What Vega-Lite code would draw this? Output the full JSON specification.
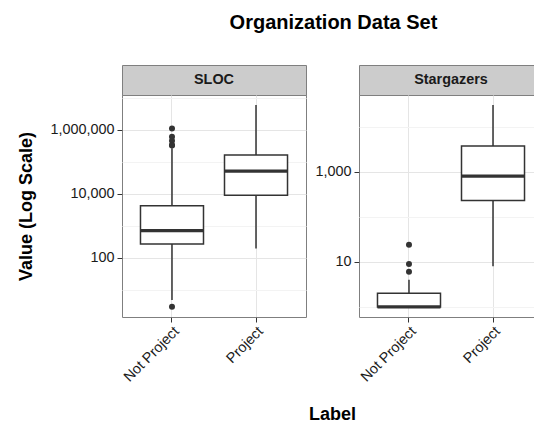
{
  "$schema": "https://vega.github.io/schema/vega-lite/v6.json",
  "padding": {"left": 17, "top": 12, "right": 30, "bottom": 6},
  "config": {
    "font": "Liberation Sans",
    "view": {"stroke": "#7f7f7f", "strokeWidth": 1},
    "axis": {
      "labelFont": "Liberation Sans",
      "labelFontSize": 14.4,
      "labelColor": "#1a1a1a",
      "titleFont": "Liberation Sans",
      "titleFontSize": 18,
      "titleFontWeight": "bold",
      "titleColor": "#000000",
      "tickColor": "#333333",
      "tickSize": 5,
      "domain": false,
      "gridColor": "#e5e5e5",
      "gridWidth": 1
    }
  },
  "title": {
    "text": "Organization Data Set",
    "fontSize": 20,
    "fontWeight": "bold",
    "font": "Liberation Sans",
    "color": "#000000",
    "anchor": "middle",
    "offset": 32,
    "dx": 53
  },
  "datasets": {
    "panels": [{"panel": "SLOC"}, {"panel": "Stargazers"}],
    "boxes": [
      {"panel": "SLOC", "label": "Not Project", "lower": 4.7, "q1": 269, "median": 708, "q3": 4270, "upper": 269000},
      {"panel": "SLOC", "label": "Project", "lower": 195, "q1": 9120, "median": 51300, "q3": 166000, "upper": 6030000},
      {"panel": "Stargazers", "label": "Not Project", "lower": 1, "q1": 1, "median": 1, "q3": 2, "upper": 4},
      {"panel": "Stargazers", "label": "Project", "lower": 8, "q1": 229, "median": 800, "q3": 3720, "upper": 30200}
    ],
    "outliers": [
      {"panel": "SLOC", "label": "Not Project", "value": 1122000},
      {"panel": "SLOC", "label": "Not Project", "value": 617000},
      {"panel": "SLOC", "label": "Not Project", "value": 457000},
      {"panel": "SLOC", "label": "Not Project", "value": 339000},
      {"panel": "SLOC", "label": "Not Project", "value": 324000},
      {"panel": "SLOC", "label": "Not Project", "value": 2.9},
      {"panel": "Stargazers", "label": "Not Project", "value": 24},
      {"panel": "Stargazers", "label": "Not Project", "value": 9},
      {"panel": "Stargazers", "label": "Not Project", "value": 6}
    ]
  },
  "columns": 2,
  "bounds": "flush",
  "spacing": {"row": 0, "column": 53},
  "concat": [
    {
      "width": 184,
      "height": 30,
      "data": {"name": "panels"},
      "transform": [{"filter": "datum.panel === 'SLOC'"}],
      "mark": {"type": "text", "fontSize": 14.4, "fontWeight": "bold", "color": "#1a1a1a"},
      "encoding": {"text": {"field": "panel"}},
      "view": {"fill": "#cccccc", "stroke": "#7f7f7f"}
    },
    {
      "width": 184,
      "height": 30,
      "data": {"name": "panels"},
      "transform": [{"filter": "datum.panel === 'Stargazers'"}],
      "mark": {"type": "text", "fontSize": 14.4, "fontWeight": "bold", "color": "#1a1a1a"},
      "encoding": {"text": {"field": "panel"}},
      "view": {"fill": "#cccccc", "stroke": "#7f7f7f"}
    },
    {
      "width": 184,
      "height": 222,
      "encoding": {
        "x": {
          "field": "label",
          "type": "nominal",
          "scale": {"type": "band", "domain": ["Not Project", "Project"], "paddingInner": 0.25, "paddingOuter": 0.22},
          "axis": {
            "title": "Label",
            "titleX": 210,
            "titleY": 102,
            "titleAlign": "center",
            "titleBaseline": "alphabetic",
            "labelAngle": -45,
            "labelAlign": "right",
            "labelBaseline": "top",
            "labelPadding": 2,
            "bandPosition": 0.5,
            "grid": true
          }
        }
      },
      "layer": [
        {
          "data": {"name": "boxes"},
          "transform": [{"filter": "datum.panel === 'SLOC'"}],
          "mark": {"type": "rule", "color": "#333333", "strokeWidth": 1.5},
          "encoding": {
            "y": {
              "field": "lower",
              "type": "quantitative",
              "scale": {"type": "log", "domain": [1.39, 12470000], "nice": false},
              "axis": {"orient": "left", "values": [10, 1000, 100000, 10000000], "labels": false, "ticks": false, "grid": true, "gridColor": "#f3f3f3", "title": null}
            },
            "y2": {"field": "upper"}
          }
        },
        {
          "data": {"name": "boxes"},
          "transform": [{"filter": "datum.panel === 'SLOC'"}],
          "mark": {"type": "bar", "fill": "#ffffff", "stroke": "#333333", "strokeWidth": 1.5},
          "encoding": {
            "y": {
              "field": "q1",
              "type": "quantitative",
              "axis": {"orient": "left", "values": [100, 10000, 1000000], "format": ",", "grid": true, "labelPadding": 3, "title": "Value (Log Scale)", "titlePadding": 14}
            },
            "y2": {"field": "q3"}
          }
        },
        {
          "data": {"name": "boxes"},
          "transform": [{"filter": "datum.panel === 'SLOC'"}],
          "mark": {"type": "tick", "color": "#333333", "opacity": 1, "thickness": 3.2, "size": 63},
          "encoding": {"y": {"field": "median", "type": "quantitative", "axis": null}}
        },
        {
          "data": {"name": "outliers"},
          "transform": [{"filter": "datum.panel === 'SLOC'"}],
          "mark": {"type": "point", "filled": true, "color": "#333333", "size": 36, "opacity": 1},
          "encoding": {"y": {"field": "value", "type": "quantitative", "axis": null}}
        }
      ],
      "resolve": {"axis": {"y": "independent"}}
    },
    {
      "width": 184,
      "height": 222,
      "encoding": {
        "x": {
          "field": "label",
          "type": "nominal",
          "scale": {"type": "band", "domain": ["Not Project", "Project"], "paddingInner": 0.25, "paddingOuter": 0.22},
          "axis": {
            "title": null,
            "labelAngle": -45,
            "labelAlign": "right",
            "labelBaseline": "top",
            "labelPadding": 2,
            "bandPosition": 0.5,
            "grid": true
          }
        }
      },
      "layer": [
        {
          "data": {"name": "boxes"},
          "transform": [{"filter": "datum.panel === 'Stargazers'"}],
          "mark": {"type": "rule", "color": "#333333", "strokeWidth": 1.5},
          "encoding": {
            "y": {
              "field": "lower",
              "type": "quantitative",
              "scale": {"type": "log", "domain": [0.597, 50600], "nice": false},
              "axis": {"orient": "left", "values": [1, 100, 10000], "labels": false, "ticks": false, "grid": true, "gridColor": "#f3f3f3", "title": null}
            },
            "y2": {"field": "upper"}
          }
        },
        {
          "data": {"name": "boxes"},
          "transform": [{"filter": "datum.panel === 'Stargazers'"}],
          "mark": {"type": "bar", "fill": "#ffffff", "stroke": "#333333", "strokeWidth": 1.5},
          "encoding": {
            "y": {
              "field": "q1",
              "type": "quantitative",
              "axis": {"orient": "left", "values": [10, 1000], "format": ",", "grid": true, "labelPadding": 3, "title": null}
            },
            "y2": {"field": "q3"}
          }
        },
        {
          "data": {"name": "boxes"},
          "transform": [{"filter": "datum.panel === 'Stargazers'"}],
          "mark": {"type": "tick", "color": "#333333", "opacity": 1, "thickness": 3.2, "size": 63},
          "encoding": {"y": {"field": "median", "type": "quantitative", "axis": null}}
        },
        {
          "data": {"name": "outliers"},
          "transform": [{"filter": "datum.panel === 'Stargazers'"}],
          "mark": {"type": "point", "filled": true, "color": "#333333", "size": 36, "opacity": 1},
          "encoding": {"y": {"field": "value", "type": "quantitative", "axis": null}}
        }
      ],
      "resolve": {"axis": {"y": "independent"}}
    }
  ]
}
